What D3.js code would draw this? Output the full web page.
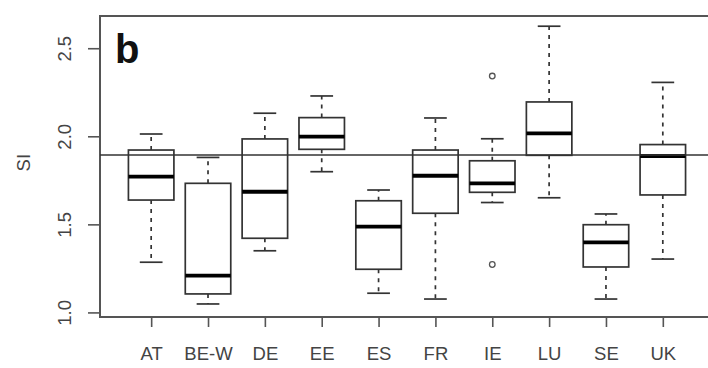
<!DOCTYPE html>
<meta charset="utf-8">
<head>
  <title>SI by country</title>
</head>

<style>
body {
  margin: 0;
  background: #fff;
  font-family: "Liberation Sans", Arial, sans-serif;
}
svg text {
  fill: #444;
}
</style>

<body>
<svg width="708" height="368"></svg>
<script src="https://cdnjs.cloudflare.com/ajax/libs/d3/7.8.5/d3.min.js"></script>
<script>
// box statistics
var countries = ["AT", "BE-W", "DE", "EE", "ES", "FR", "IE", "LU", "SE", "UK"];
var lowerWhisker = [1.285, 1.048, 1.350, 1.799, 1.109, 1.076, 1.624, 1.651, 1.076, 1.303];
var q1 = [1.638, 1.105, 1.421, 1.926, 1.245, 1.563, 1.682, 1.892, 1.258, 1.667];
var median = [1.771, 1.209, 1.685, 1.998, 1.487, 1.776, 1.733, 2.017, 1.398, 1.888];
var q3 = [1.922, 1.733, 1.985, 2.106, 1.634, 1.922, 1.861, 2.195, 1.498, 1.953];
var upperWhisker = [2.013, 1.880, 2.131, 2.229, 1.695, 2.104, 1.986, 2.625, 1.559, 2.306];
var outliers = [[], [], [], [], [], [], [2.342, 1.272], [], [], []];
var yTicks = [1.0, 1.5, 2.0, 2.5];
var refLine = 1.894;

var boxes = countries.map(function(c, i) {
  return {
    name: c, pos: i + 1,
    lo: lowerWhisker[i], q1: q1[i], med: median[i], q3: q3[i], hi: upperWhisker[i],
    out: outliers[i]
  };
});

var plotLeft = 100, plotTop = 16, plotBottom = 317;
var unit = 56.85;
var labelFont = "18.5px";

var x = d3.scaleLinear().domain([0.1, 10.9]).range([plotLeft, plotLeft + 10.8 * unit]);
var y = d3.scaleLinear().domain([0.974, 2.683]).range([plotBottom, plotTop]);

var svg = d3.select("svg");

// plot frame (right side falls outside the picture)
svg.append("rect")
  .attr("x", x(0.1))
  .attr("y", y(2.683))
  .attr("width", x(10.9) - x(0.1))
  .attr("height", y(0.974) - y(2.683))
  .attr("fill", "none")
  .attr("stroke", "#555")
  .attr("stroke-width", 2);

// y axis
var yAxis = svg.append("g")
  .attr("transform", "translate(" + plotLeft + ",0)")
  .call(d3.axisLeft(y).tickValues(yTicks).tickSize(12).tickFormat(d3.format(".1f")));
yAxis.select(".domain").remove();
yAxis.selectAll("line").attr("stroke", "#555").attr("stroke-width", 1.6);
yAxis.selectAll("text")
  .attr("transform", "rotate(-90)")
  .attr("x", 0)
  .attr("y", -35)
  .attr("dy", "0.35em")
  .attr("text-anchor", "middle")
  .style("font-size", labelFont)
  .style("font-family", "'Liberation Sans', Arial, sans-serif")
  .attr("fill", "#444");

// x axis
var xAxis = svg.append("g")
  .attr("transform", "translate(0," + plotBottom + ")")
  .call(d3.axisBottom(x).tickValues(boxes.map(function(d) { return d.pos; }))
    .tickSize(10).tickPadding(20)
    .tickFormat(function(d) { return countries[d - 1]; }));
xAxis.select(".domain").remove();
xAxis.selectAll("line").attr("stroke", "#555").attr("stroke-width", 1.6);
xAxis.selectAll("text")
  .style("font-size", labelFont)
  .style("font-family", "'Liberation Sans', Arial, sans-serif")
  .attr("fill", "#444");

// y label
svg.append("text")
  .attr("transform", "translate(24," + y(1.85) + ") rotate(-90)")
  .attr("text-anchor", "middle")
  .attr("dy", "0.35em")
  .style("font-size", labelFont)
  .text("SI");

// panel letter
svg.append("text")
  .attr("x", 115)
  .attr("y", 63)
  .style("font-size", "40px")
  .style("font-weight", "bold")
  .style("fill", "#111")
  .text("b");

var g = svg.append("g").selectAll("g")
  .data(boxes)
  .enter()
  .append("g");

var bw = 0.4 * unit, cw = 0.2 * unit;

// whiskers
g.append("line")
  .attr("x1", function(d) { return x(d.pos); })
  .attr("x2", function(d) { return x(d.pos); })
  .attr("y1", function(d) { return y(d.q1); })
  .attr("y2", function(d) { return y(d.lo); })
  .attr("stroke", "#333").attr("stroke-width", 1.7).attr("stroke-dasharray", "4,5");
g.append("line")
  .attr("x1", function(d) { return x(d.pos); })
  .attr("x2", function(d) { return x(d.pos); })
  .attr("y1", function(d) { return y(d.q3); })
  .attr("y2", function(d) { return y(d.hi); })
  .attr("stroke", "#333").attr("stroke-width", 1.7).attr("stroke-dasharray", "4,5");

// caps
g.append("line")
  .attr("x1", function(d) { return x(d.pos) - cw; })
  .attr("x2", function(d) { return x(d.pos) + cw; })
  .attr("y1", function(d) { return y(d.lo); })
  .attr("y2", function(d) { return y(d.lo); })
  .attr("stroke", "#333").attr("stroke-width", 1.7);
g.append("line")
  .attr("x1", function(d) { return x(d.pos) - cw; })
  .attr("x2", function(d) { return x(d.pos) + cw; })
  .attr("y1", function(d) { return y(d.hi); })
  .attr("y2", function(d) { return y(d.hi); })
  .attr("stroke", "#333").attr("stroke-width", 1.7);

// boxes
g.append("rect")
  .attr("x", function(d) { return x(d.pos) - bw; })
  .attr("y", function(d) { return y(d.q3); })
  .attr("width", 2 * bw)
  .attr("height", function(d) { return y(d.q1) - y(d.q3); })
  .attr("fill", "#fff")
  .attr("stroke", "#333")
  .attr("stroke-width", 1.7);

// medians
g.append("line")
  .attr("x1", function(d) { return x(d.pos) - bw; })
  .attr("x2", function(d) { return x(d.pos) + bw; })
  .attr("y1", function(d) { return y(d.med); })
  .attr("y2", function(d) { return y(d.med); })
  .attr("stroke", "#000").attr("stroke-width", 3.8);

// outliers
g.selectAll("circle")
  .data(function(d) { return d.out.map(function(v) { return {pos: d.pos, v: v}; }); })
  .enter()
  .append("circle")
  .attr("cx", function(d) { return x(d.pos); })
  .attr("cy", function(d) { return y(d.v); })
  .attr("r", 2.8)
  .attr("fill", "none")
  .attr("stroke", "#555")
  .attr("stroke-width", 1.3);

// reference line
svg.append("line")
  .attr("x1", x(0.1))
  .attr("x2", x(10.9))
  .attr("y1", y(refLine))
  .attr("y2", y(refLine))
  .attr("stroke", "#333")
  .attr("stroke-width", 1.6);
</script>
</body>
</html>
